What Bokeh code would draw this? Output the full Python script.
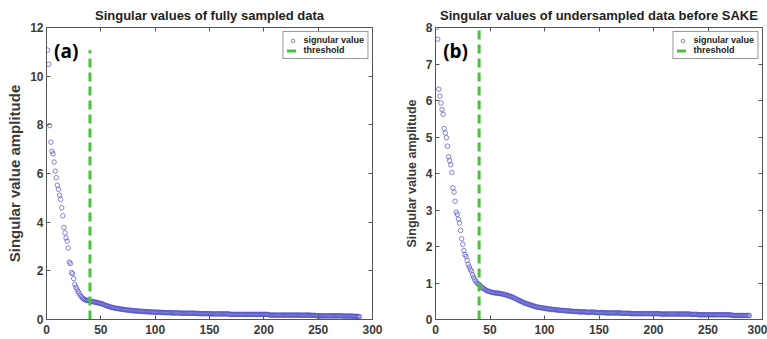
from bokeh.plotting import figure
from bokeh.layouts import row
from bokeh.models import LinearAxis, Range1d, Legend, LegendItem, FixedTicker, Label
from bokeh.embed import file_html
from bokeh.resources import INLINE

# ---------------- data ----------------
sv_full = [
    11.07, 10.49, 7.97, 7.29, 6.91, 6.81, 6.47, 6.10, 5.83, 5.52, 5.35, 5.11, 4.94, 4.59, 4.26, 3.78, 3.56, 3.35, 3.22, 2.94,
    2.36, 2.30, 1.93, 1.88, 1.68, 1.44, 1.33, 1.25, 1.16, 1.08, 1.00, 0.94, 0.89, 0.85, 0.82, 0.80, 0.79, 0.78, 0.77, 0.76,
    0.75, 0.74, 0.73, 0.72, 0.71, 0.70, 0.69, 0.68, 0.67, 0.66, 0.64, 0.63, 0.61, 0.59, 0.57, 0.56, 0.54, 0.53, 0.51, 0.50,
    0.49, 0.48, 0.47, 0.46, 0.45, 0.45, 0.44, 0.43, 0.42, 0.42, 0.41, 0.40, 0.40, 0.39, 0.39, 0.38, 0.38, 0.37, 0.37, 0.36,
    0.36, 0.35, 0.35, 0.35, 0.34, 0.34, 0.34, 0.33, 0.33, 0.33, 0.32, 0.32, 0.32, 0.32, 0.31, 0.31, 0.31, 0.31, 0.30, 0.30,
    0.30, 0.30, 0.30, 0.29, 0.29, 0.29, 0.29, 0.29, 0.28, 0.28, 0.28, 0.28, 0.28, 0.28, 0.27, 0.27, 0.27, 0.27, 0.27, 0.27,
    0.27, 0.27, 0.26, 0.26, 0.26, 0.26, 0.26, 0.26, 0.26, 0.26, 0.26, 0.26, 0.26, 0.25, 0.26, 0.26, 0.25, 0.25, 0.25, 0.25,
    0.24, 0.24, 0.24, 0.24, 0.24, 0.24, 0.24, 0.24, 0.24, 0.24, 0.23, 0.23, 0.23, 0.23, 0.23, 0.23, 0.23, 0.23, 0.23, 0.23,
    0.23, 0.23, 0.23, 0.23, 0.23, 0.23, 0.23, 0.22, 0.22, 0.21, 0.21, 0.21, 0.21, 0.21, 0.21, 0.21, 0.21, 0.21, 0.21, 0.21,
    0.21, 0.21, 0.21, 0.21, 0.21, 0.21, 0.21, 0.21, 0.21, 0.21, 0.21, 0.21, 0.21, 0.21, 0.21, 0.21, 0.21, 0.21, 0.21, 0.21,
    0.21, 0.21, 0.21, 0.20, 0.19, 0.18, 0.18, 0.18, 0.18, 0.18, 0.18, 0.18, 0.18, 0.18, 0.18, 0.18, 0.18, 0.18, 0.18, 0.18,
    0.18, 0.18, 0.18, 0.18, 0.18, 0.18, 0.18, 0.18, 0.18, 0.18, 0.18, 0.18, 0.18, 0.18, 0.18, 0.17, 0.18, 0.18, 0.18, 0.18,
    0.18, 0.18, 0.17, 0.17, 0.17, 0.17, 0.17, 0.16, 0.15, 0.15, 0.15, 0.15, 0.15, 0.15, 0.15, 0.15, 0.15, 0.15, 0.15, 0.15,
    0.15, 0.15, 0.15, 0.15, 0.15, 0.15, 0.15, 0.15, 0.15, 0.15, 0.15, 0.15, 0.14, 0.14, 0.14, 0.14, 0.14, 0.14, 0.14, 0.14,
    0.14, 0.13, 0.13, 0.13, 0.13, 0.13, 0.12, 0.12,
]
sv_under = [
    8.00, 7.68, 6.31, 6.12, 5.93, 5.75, 5.62, 5.23, 5.11, 4.98, 4.75, 4.46, 4.35, 4.24, 4.03, 3.61, 3.49, 3.24, 2.94, 2.88,
    2.75, 2.64, 2.44, 2.21, 2.06, 1.89, 1.78, 1.73, 1.62, 1.51, 1.44, 1.37, 1.32, 1.23, 1.16, 1.10, 1.05, 1.00, 0.98, 0.96,
    0.93, 0.89, 0.87, 0.85, 0.83, 0.81, 0.79, 0.78, 0.77, 0.76, 0.75, 0.74, 0.74, 0.73, 0.73, 0.72, 0.72, 0.72, 0.71, 0.71,
    0.70, 0.69, 0.69, 0.68, 0.67, 0.66, 0.65, 0.64, 0.63, 0.62, 0.61, 0.59, 0.58, 0.56, 0.55, 0.53, 0.52, 0.50, 0.49, 0.48,
    0.46, 0.45, 0.44, 0.43, 0.42, 0.41, 0.40, 0.39, 0.38, 0.37, 0.36, 0.35, 0.34, 0.34, 0.33, 0.33, 0.32, 0.32, 0.31, 0.31,
    0.30, 0.30, 0.29, 0.29, 0.28, 0.28, 0.28, 0.27, 0.27, 0.27, 0.26, 0.26, 0.26, 0.25, 0.25, 0.25, 0.25, 0.24, 0.24, 0.24,
    0.24, 0.23, 0.23, 0.23, 0.23, 0.22, 0.22, 0.22, 0.22, 0.22, 0.21, 0.21, 0.21, 0.21, 0.21, 0.21, 0.21, 0.20, 0.20, 0.20,
    0.20, 0.20, 0.20, 0.20, 0.20, 0.20, 0.19, 0.19, 0.19, 0.19, 0.19, 0.19, 0.19, 0.19, 0.19, 0.18, 0.18, 0.18, 0.18, 0.18,
    0.18, 0.18, 0.18, 0.18, 0.18, 0.18, 0.18, 0.18, 0.18, 0.18, 0.17, 0.17, 0.17, 0.17, 0.17, 0.17, 0.17, 0.17, 0.16, 0.16,
    0.16, 0.16, 0.16, 0.16, 0.16, 0.16, 0.16, 0.16, 0.16, 0.16, 0.16, 0.16, 0.16, 0.16, 0.16, 0.16, 0.16, 0.16, 0.16, 0.16,
    0.16, 0.16, 0.16, 0.16, 0.16, 0.15, 0.15, 0.15, 0.15, 0.15, 0.15, 0.15, 0.15, 0.15, 0.15, 0.15, 0.15, 0.15, 0.15, 0.15,
    0.15, 0.15, 0.15, 0.15, 0.15, 0.15, 0.15, 0.15, 0.15, 0.15, 0.15, 0.15, 0.15, 0.14, 0.14, 0.14, 0.14, 0.14, 0.14, 0.14,
    0.13, 0.13, 0.13, 0.13, 0.13, 0.13, 0.13, 0.13, 0.13, 0.13, 0.13, 0.13, 0.13, 0.13, 0.13, 0.13, 0.13, 0.13, 0.13, 0.13,
    0.13, 0.13, 0.13, 0.13, 0.13, 0.13, 0.13, 0.13, 0.13, 0.13, 0.12, 0.12, 0.11, 0.11, 0.11, 0.11, 0.11, 0.11, 0.11, 0.11,
    0.11, 0.11, 0.11, 0.11, 0.11, 0.11, 0.11, 0.11,
]
threshold = 40
x_ticks = [0, 50, 100, 150, 200, 250, 300]
y_ticks_full = [0, 2, 4, 6, 8, 10, 12]
y_ticks_under = [0, 1, 2, 3, 4, 5, 6, 7, 8]
titles = ["Singular values of fully sampled data", "Singular values of undersampled data before SAKE"]
panel_labels = ["(a)", "(b)"]
y_label = "Singular value amplitude"
legend_labels = ["signular value", "threshold"]

FONT = "Liberation Sans"
BLUE = "#5052c4"
GREEN = "#45c535"
TXT = "#3a3a3a"


def make_panel(vals, yticks, ymax, title, plabel, plabel_y, width, left_border,
               right_border, tick_fs, ylabel_fs, title_fs):
    p = figure(width=width, height=339, output_backend="svg", toolbar_location=None,
               x_range=Range1d(0, 300), y_range=Range1d(0, ymax),
               min_border_left=left_border, min_border_right=right_border,
               min_border_top=27, min_border_bottom=20,
               background_fill_color="white", border_fill_color="white")
    p.grid.visible = False
    p.outline_line_color = "#555555"
    p.outline_line_width = 1
    p.title.text = title
    p.title.align = "center"
    p.title.text_font = FONT
    p.title.text_font_size = title_fs
    p.title.text_color = "#222222"
    p.title.standoff = 10
    p.title.offset = 0

    xs = list(range(1, len(vals) + 1))
    r_sv = p.scatter(xs, vals, marker="circle", size=4.5, fill_color=None,
                     line_color=BLUE, line_width=0.7)
    r_th = p.line([threshold, threshold], [0, max(vals)], line_color=GREEN,
                  line_width=3, line_dash="9 5")

    for ax in (p.xaxis[0], p.yaxis[0]):
        ax.major_label_text_font = FONT
        ax.major_label_text_font_size = tick_fs
        ax.major_label_text_font_style = "bold"
        ax.major_label_text_color = TXT
        ax.major_tick_in = 4
        ax.major_tick_out = 0
        ax.minor_tick_line_color = None
        ax.axis_line_color = "#555555"
        ax.major_tick_line_color = "#555555"
        ax.major_label_standoff = 3
    p.xaxis[0].major_label_standoff = 5
    p.xaxis[0].ticker = FixedTicker(ticks=x_ticks)
    p.yaxis[0].ticker = FixedTicker(ticks=yticks)
    p.yaxis[0].axis_label = y_label
    p.yaxis[0].axis_label_text_font = FONT
    p.yaxis[0].axis_label_text_font_size = ylabel_fs
    p.yaxis[0].axis_label_text_font_style = "bold"
    p.yaxis[0].axis_label_text_color = TXT
    p.yaxis[0].axis_label_standoff = 4

    # mirrored ticks on top and right (MATLAB box style), without labels
    for loc, tk in (("above", x_ticks), ("right", yticks)):
        ax = LinearAxis(ticker=FixedTicker(ticks=tk),
                        major_label_overrides={t: "" for t in tk})
        ax.major_label_standoff = 0
        ax.major_tick_in = 4
        ax.major_tick_out = 0
        ax.minor_tick_line_color = None
        ax.axis_line_color = None
        ax.major_tick_line_color = "#555555"
        p.add_layout(ax, loc)

    p.add_layout(Label(x=7, y=plabel_y, text=plabel, text_font="Open Sans",
                       text_font_style="bold", text_font_size="19px",
                       text_baseline="middle", text_color="black"))

    legend = Legend(items=[LegendItem(label=legend_labels[0], renderers=[r_sv]),
                           LegendItem(label=legend_labels[1], renderers=[r_th])],
                    location="top_right")
    legend.label_text_font = FONT
    legend.label_text_font_size = "9px"
    legend.label_text_font_style = "bold"
    legend.label_text_color = "#222222"
    legend.label_height = 8
    legend.glyph_height = 9
    legend.glyph_width = 12
    legend.spacing = 0
    legend.padding = 3
    legend.margin = 4
    legend.label_standoff = 5
    legend.border_line_color = "#333333"
    legend.border_line_width = 0.8
    legend.background_fill_alpha = 1
    p.add_layout(legend)
    return p


p1 = make_panel(sv_full, y_ticks_full, 12, titles[0], panel_labels[0], 11.05,
                390, 46, 18, "12px", "15px", "13px")
p2 = make_panel(sv_under, y_ticks_under, 8, titles[1], panel_labels[1], 7.35,
                377, 45, 5, "12px", "12.5px", "13px")

layout = row(p1, p2, spacing=0)
open("out.html", "w").write(file_html(layout, INLINE))
